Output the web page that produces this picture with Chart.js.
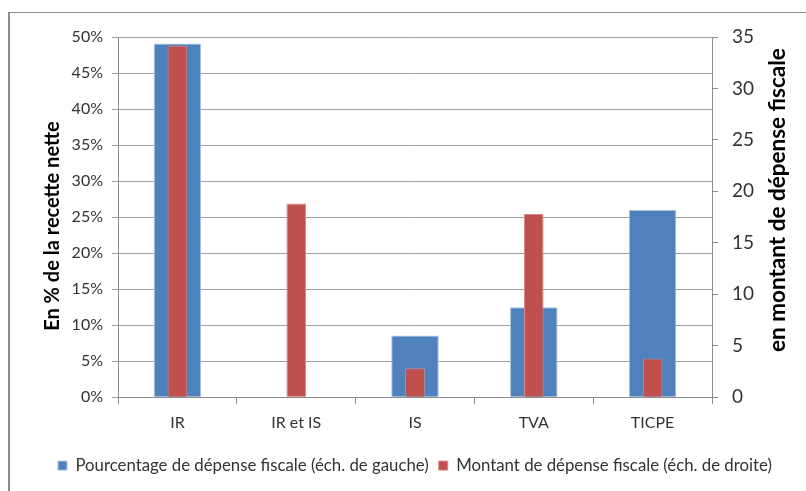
<!DOCTYPE html>
<html>
<head>
<meta charset="utf-8">
<script src="https://cdn.jsdelivr.net/npm/chart.js@4"></script>
<style>
  html, body { margin: 0; padding: 0; background: #fff; }
  #wrap { position: relative; width: 806px; height: 491px; overflow: hidden; }
  #frame { position: absolute; left: 8px; top: 12px; width: 900px; height: 600px;
           border-left: 2px solid #8c8c8c; border-top: 1px solid #8c8c8c; }
  canvas { position: absolute; left: 0; top: 0; }
</style>
</head>
<body>
<div id="wrap">
  <div id="frame"></div>
  <canvas id="chart" width="806" height="491"></canvas>
</div>
<script>
// catégories d'impôt
const categories = ["IR", "IR et IS", "IS", "TVA", "TICPE"];
// % de la recette nette (échelle de gauche)
const pourcentage = [49.1, null, 8.57, 12.5, 26.0];
// montant de dépense fiscale (échelle de droite)
const montant = [34.15, 18.83, 2.82, 17.8, 3.76];

const leftTicks = [0, 5, 10, 15, 20, 25, 30, 35, 40, 45, 50];
const rightTicks = [0, 5, 10, 15, 20, 25, 30, 35];
const leftTitle = "En % de la recette nette";
const rightTitle = "en montant de dépense fiscale";

const FONT = "Lato";
const gridGrey = "#a0a0a0";
const axisGrey = "#8c8c8c";

// titres des deux axes, lus de bas en haut
function drawVertical(c, text, x, y, size) {
  c.save();
  c.translate(x, y);
  c.rotate(-Math.PI / 2);
  c.font = "bold " + size + "px " + FONT;
  c.fillStyle = "#000";
  c.textAlign = "center";
  c.textBaseline = "middle";
  c.fillText(text, 0, 0);
  c.restore();
}

const titlesPlugin = {
  id: "axisTitles",
  afterDraw(chart) {
    const a = chart.chartArea;
    const mid = (a.top + a.bottom) / 2;
    drawVertical(chart.ctx, leftTitle, chart.scales.yLeft.left + 29, mid + 9, 20);
    drawVertical(chart.ctx, rightTitle, chart.scales.yRight.right - 28, mid - 17, 22.5);
  },
};

const ctx = document.getElementById("chart").getContext("2d");
const chart = new Chart(ctx, {
  type: "bar",
  data: {
    labels: categories,
    datasets: [
      {
        label: "Pourcentage de dépense fiscale (éch. de gauche)",
        data: pourcentage,
        yAxisID: "yLeft",
        backgroundColor: "#4f81bd",
        borderColor: "#a9c1df",
        borderWidth: 1,
        borderSkipped: "bottom",
        grouped: false,
        categoryPercentage: 1,
        barPercentage: 0.4,
        order: 2,
      },
      {
        label: "Montant de dépense fiscale (éch. de droite)",
        data: montant,
        yAxisID: "yRight",
        backgroundColor: "#c0504d",
        borderColor: "#d88a88",
        borderWidth: 1,
        borderSkipped: "bottom",
        grouped: false,
        categoryPercentage: 1,
        barPercentage: 0.165,
        order: 1,
      },
    ],
  },
  options: {
    responsive: false,
    animation: false,
    devicePixelRatio: 1,
    layout: { padding: { left: 24, right: 0, top: 37, bottom: 7 } },
    scales: {
      x: {
        offset: true,
        grid: {
          offset: true,
          drawOnChartArea: false,
          drawTicks: true,
          tickLength: 7,
          color: axisGrey,
        },
        border: { color: axisGrey, width: 1 },
        ticks: { color: "#333", font: { family: FONT, size: 16 }, padding: 9 },
        afterFit: (s) => { s.height = 50; },
      },
      yLeft: {
        position: "left",
        min: 0,
        max: 50,
        afterBuildTicks: (s) => { s.ticks = leftTicks.map((v) => ({ value: v })); },
        grid: { color: gridGrey, lineWidth: 1, tickLength: 6 },
        border: { color: axisGrey, width: 1 },
        ticks: {
          color: "#333",
          font: { family: FONT, size: 16 },
          padding: 9,
          callback: (v) => v + "%",
        },
        afterFit: (s) => { s.width = 94; },
      },
      yRight: {
        position: "right",
        min: 0,
        max: 35,
        afterBuildTicks: (s) => { s.ticks = rightTicks.map((v) => ({ value: v })); },
        grid: { drawOnChartArea: false, tickLength: 6, color: axisGrey },
        border: { color: axisGrey, width: 1 },
        ticks: { color: "#333", font: { family: FONT, size: 19 }, padding: 14 },
        afterFit: (s) => { s.width = 94; },
      },
    },
    plugins: {
      legend: {
        position: "bottom",
        labels: {
          boxWidth: 9,
          boxHeight: 9,
          padding: 10,
          color: "#333",
          font: { family: FONT, size: 16.8 },
          sort: (a, b) => a.datasetIndex - b.datasetIndex,
        },
      },
      tooltip: { enabled: false },
    },
  },
  plugins: [titlesPlugin],
});
</script>
</body>
</html>
